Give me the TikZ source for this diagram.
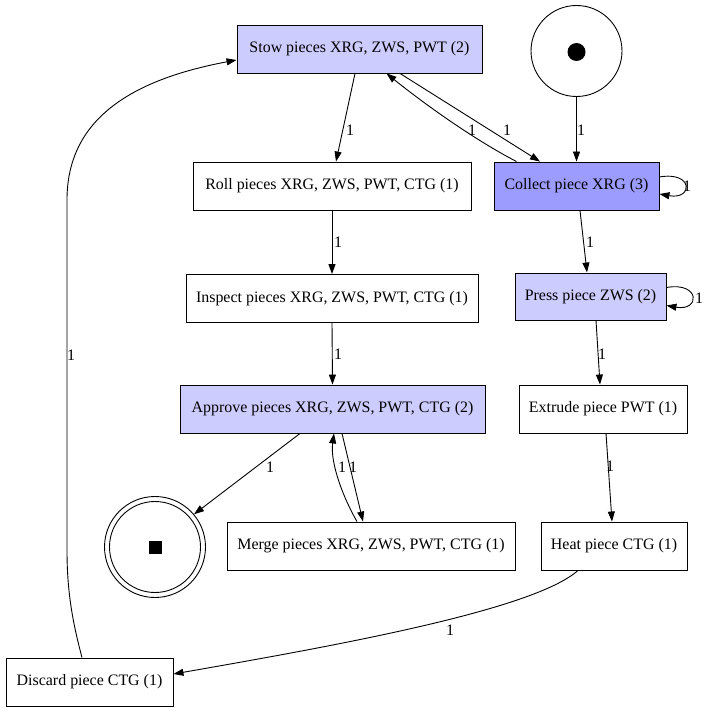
\documentclass[tikz,border=0pt]{standalone}
\usepackage{fontspec}
\setmainfont{Liberation Serif}
\usetikzlibrary{arrows.meta}
\definecolor{lav}{HTML}{CCCCFF}
\definecolor{lavd}{HTML}{9C9CFF}
\begin{document}
\begin{tikzpicture}[x=1bp,y=-1bp,
  box/.style={draw=black, line width=0.9bp, minimum height=48bp, inner sep=0pt,
              font=\fontsize{16}{18}\selectfont},
  place/.style={draw=black, line width=0.9bp, circle, inner sep=0pt},
  arr/.style={-{Triangle[length=10bp,width=7bp]}, line width=0.9bp},
  lbl/.style={font=\fontsize{16}{18}\selectfont, inner sep=0pt}]
\useasboundingbox (0,0) rectangle (704,712);

% nodes
\node[box, fill=lav, minimum width=245bp] (stow) at (359.5,49) {Stow pieces XRG, ZWS, PWT (2)};
\node[place, minimum size=91bp] (start) at (576.5,51) {};
\node[circle, fill=black, minimum size=18bp, inner sep=0pt] (startdot) at (576.5,52) {};
\node[box, minimum width=278bp] (roll) at (332,186) {Roll pieces XRG, ZWS, PWT, CTG (1)};
\node[box, fill=lavd, minimum width=165bp] (collect) at (576.5,186) {Collect piece XRG (3)};
\node[box, minimum width=292bp] (inspect) at (332,298.5) {Inspect pieces XRG, ZWS, PWT, CTG (1)};
\node[box, fill=lav, minimum width=151bp, minimum height=47bp] (press) at (590.5,296.5) {Press piece ZWS (2)};
\node[box, fill=lav, minimum width=305bp] (approve) at (332.5,409) {Approve pieces XRG, ZWS, PWT, CTG (2)};
\node[box, minimum width=168bp] (extrude) at (603,409) {Extrude piece PWT (1)};
\node[place, minimum size=101bp] (end) at (155,547) {};
\node[place, minimum size=91bp] (endin) at (155,547) {};
\node[fill=black, minimum size=13bp, inner sep=0pt] (endsq) at (155,547) {};
\node[box, minimum width=288bp] (merge) at (371,546) {Merge pieces XRG, ZWS, PWT, CTG (1)};
\node[box, minimum width=146bp] (heat) at (614,546) {Heat piece CTG (1)};
\node[box, minimum width=167bp] (discard) at (89.5,682) {Discard piece CTG (1)};

% connectors
\draw[arr] ([xshift=-4.5bp]stow.south) -- ([xshift=4bp]roll.north)
  node[lbl] at (350,130) {1};
\draw[arr] ([xshift=40.5bp]stow.south) -- ([xshift=-36.5bp]collect.north)
  node[lbl] at (507,130) {1};
\draw[arr] ([xshift=-60bp]collect.north) .. controls +(-46,-24) and +(33.5,27) .. ([xshift=27bp]stow.south)
  node[lbl] at (472,130) {1};
\draw[arr] (start.south) -- (collect.north)
  node[lbl] at (581,130) {1};
\draw[arr] ([yshift=9bp]collect.east) .. controls +(34,-6) and +(34,6) .. ([yshift=-8bp]collect.east)
  node[lbl] at (687,186) {1};
\draw[arr] ([xshift=3.5bp]collect.south) -- ([xshift=-3.5bp]press.north)
  node[lbl] at (590,242) {1};
\draw[arr] ([yshift=9bp]press.east) .. controls +(34,-6) and +(34,6) .. ([yshift=-9bp]press.east)
  node[lbl] at (699,298) {1};
\draw[arr] (roll.south) -- (inspect.north)
  node[lbl] at (338,242) {1};
\draw[arr] (inspect.south) -- (approve.north)
  node[lbl] at (338,354) {1};
\draw[arr] ([xshift=5.5bp]press.south) -- ([xshift=-3bp]extrude.north)
  node[lbl] at (602,354) {1};
\draw[arr] ([xshift=3bp]extrude.south) -- ([xshift=-2bp]heat.north)
  node[lbl] at (610,466) {1};
\draw[arr] ([xshift=-32.5bp]approve.south) -- (end.40)
  node[lbl] at (270,467) {1};
\draw[arr] ([xshift=9.5bp]approve.south) -- ([xshift=-8bp]merge.north)
  node[lbl] at (353,467) {1};
\draw[arr] ([xshift=-14bp]merge.north) .. controls +(-14,-24) and +(-4,29) .. ([xshift=1.5bp]approve.south)
  node[lbl] at (342,467) {1};
\draw[arr] ([xshift=-36bp]heat.south) .. controls +(-45,40) and +(160,-28) .. ([yshift=8bp]discard.east)
  node[lbl] at (450,630) {1};
\draw[arr] ([xshift=-7.5bp]discard.north) .. controls (72,620) and (67,590) .. (67,550)
  -- (67,200) .. controls (67,120) and (130,80) .. ([yshift=-11bp]stow.west)
  node[lbl] at (71,355) {1};
\end{tikzpicture}
\end{document}
